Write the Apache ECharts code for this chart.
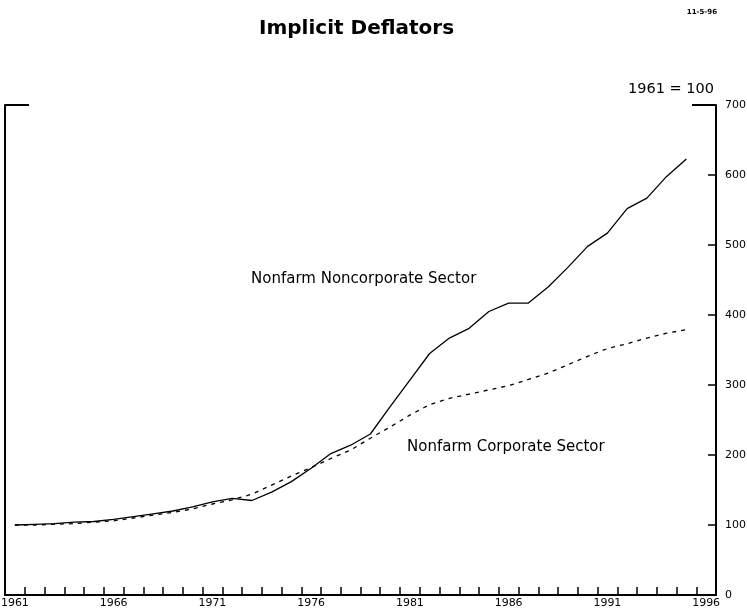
<!DOCTYPE html>
<html>
<head>
<meta charset="utf-8">
<script src="https://cdn.jsdelivr.net/npm/echarts@6/dist/echarts.min.js"></script>
<style>
  html, body { margin: 0; padding: 0; background: #fff; }
  #main { width: 747px; height: 612px; }
</style>
</head>
<body>
<div id="main"></div>
<script>
// years on the axis (1996 has no data, it only closes the axis)
var years = [];
for (var y = 1961; y <= 1996; y++) years.push(String(y));

// Nonfarm Noncorporate Sector, 1961 = 100
var noncorporate = [100, 101, 102, 104, 105, 108, 112, 116, 120, 126,
                    133, 138, 135, 147, 162, 181, 202, 214, 230, 269,
                    307, 345, 367, 381, 405, 417, 417, 440, 468, 498,
                    517, 552, 567, 598, 623];

// Nonfarm Corporate Sector, 1961 = 100
var corporate = [100, 100, 101, 102, 104, 106, 110, 114, 118, 123,
                 130, 136, 144, 157, 170, 182, 195, 207, 224, 240,
                 257, 272, 281, 287, 293, 299, 308, 317, 329, 341,
                 352, 359, 367, 374, 379];

var yTicks = [0, 100, 200, 300, 400, 500, 600, 700];

var chart = echarts.init(document.getElementById('main'));

var font = 'DejaVu Sans';

var option = {
    backgroundColor: '#fff',
    animation: false,
    grid: {
        left: 5, right: 31, top: 105, bottom: 17,
        containLabel: false,
        outerBoundsMode: 'none'
    },
    xAxis: {
        type: 'category',
        data: years,
        boundaryGap: true,
        axisLine: { lineStyle: { color: '#000', width: 2 } },
        axisTick: { show: true, inside: true, length: 8, interval: 0,
                    lineStyle: { color: '#000', width: 1.5 } },
        axisLabel: { interval: 4, color: '#000', fontFamily: font, fontSize: 11, margin: 3 },
        splitLine: { show: false }
    },
    yAxis: [{
        type: 'value',
        position: 'right',
        min: yTicks[0],
        max: yTicks[yTicks.length - 1],
        interval: 100,
        axisLine: { show: true, lineStyle: { color: '#000', width: 2 } },
        axisTick: { show: true, inside: true, length: 8, lineStyle: { color: '#000', width: 1.5 } },
        axisLabel: { color: '#000', fontFamily: font, fontSize: 11, margin: 9 },
        splitLine: { show: false }
    }, {
        type: 'value',
        position: 'left',
        min: yTicks[0],
        max: yTicks[yTicks.length - 1],
        interval: 100,
        axisLine: { show: true, lineStyle: { color: '#000', width: 2 } },
        axisTick: { show: false },
        axisLabel: { show: false },
        splitLine: { show: false }
    }],
    series: [{
        name: 'Nonfarm Noncorporate Sector',
        type: 'line',
        data: noncorporate,
        showSymbol: false,
        lineStyle: { color: '#000', width: 1.3 }
    }, {
        name: 'Nonfarm Corporate Sector',
        type: 'line',
        data: corporate,
        showSymbol: false,
        lineStyle: { color: '#000', width: 1.3, type: [4, 5] }
    }],
    graphic: [
        // short top corners of the frame
        { type: 'line', shape: { x1: 5, y1: 105, x2: 29, y2: 105 }, style: { stroke: '#000', lineWidth: 2 } },
        { type: 'line', shape: { x1: 692, y1: 105, x2: 716, y2: 105 }, style: { stroke: '#000', lineWidth: 2 } },
        { type: 'text', left: 259, top: 19,
          style: { text: 'Implicit Deflators', font: 'bold 20px ' + font, fill: '#000' } },
        { type: 'text', right: 30, top: 9,
          style: { text: '11-5-96', font: 'bold 7px ' + font, fill: '#000' } },
        { type: 'text', right: 33, top: 82,
          style: { text: '1961 = 100', font: '14.5px ' + font, fill: '#000' } },
        { type: 'text', left: 251, top: 272,
          style: { text: 'Nonfarm Noncorporate Sector', font: '15px ' + font, fill: '#000' } },
        { type: 'text', left: 407, top: 440,
          style: { text: 'Nonfarm Corporate Sector', font: '15px ' + font, fill: '#000' } }
    ]
};

chart.setOption(option);
</script>
</body>
</html>
